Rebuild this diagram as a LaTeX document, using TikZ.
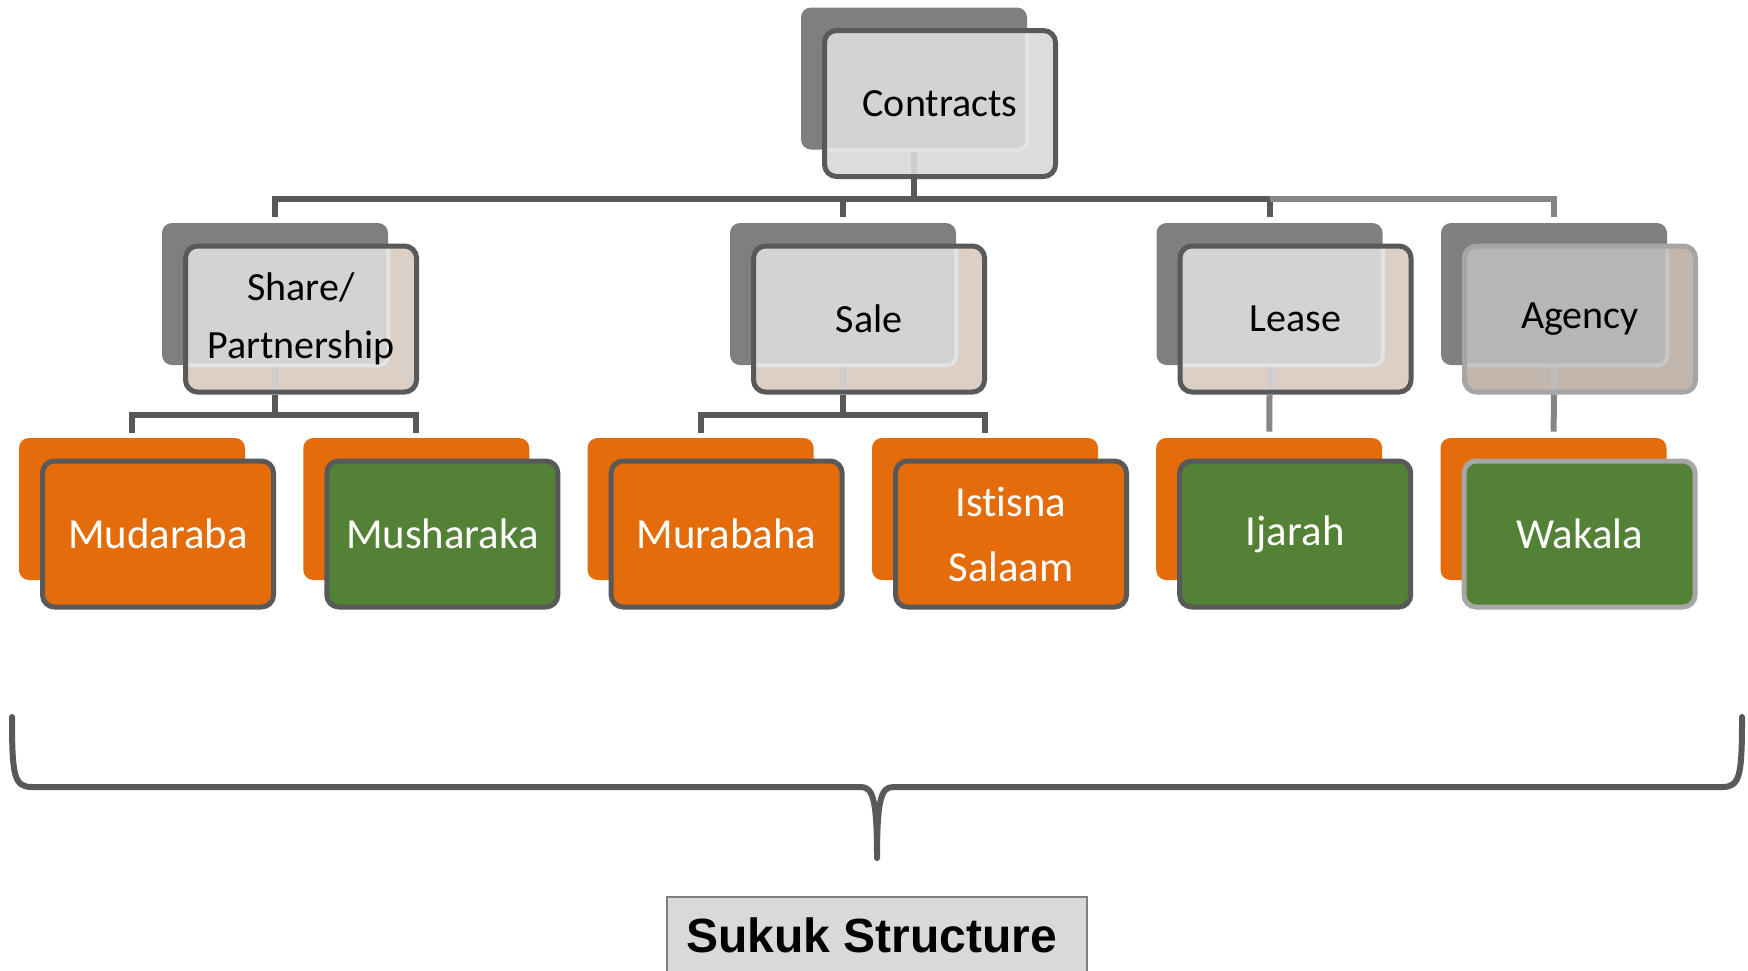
\documentclass[tikz,border=0pt]{standalone}
\usepackage{fontspec}
\setmainfont{Carlito}[Ligatures=NoCommon]
\newfontfamily\sukukfont{Liberation Sans}
\usetikzlibrary{calc}
% dark grey set (Contracts)
\definecolor{bdC}{HTML}{595959}\definecolor{bkC}{HTML}{7F7F7F}\definecolor{tnC}{HTML}{DCDCDC}
\definecolor{ovC}{HTML}{D3D3D3}\definecolor{edC}{HTML}{E3E3E3}\definecolor{thC}{HTML}{CDCDCD}
% level two set
\definecolor{bdG}{HTML}{595959}\definecolor{bkG}{HTML}{7F7F7F}\definecolor{tnG}{HTML}{DCD0C6}
\definecolor{ovG}{HTML}{D3D3D3}\definecolor{edG}{HTML}{E3E3E3}\definecolor{thG}{HTML}{CDCDCD}
% agency set
\definecolor{bdA}{HTML}{A5A5A5}\definecolor{bkA}{HTML}{808080}\definecolor{tnA}{HTML}{C2B5AB}
\definecolor{ovA}{HTML}{B6B6B6}\definecolor{edA}{HTML}{C6C6C6}\definecolor{thA}{HTML}{BEBEBE}
\definecolor{orng}{HTML}{E46C0A}
\definecolor{grn}{HTML}{538135}
\definecolor{darkline}{HTML}{595959}
\definecolor{lightline}{HTML}{868686}
\definecolor{lightborder}{HTML}{A6A6A6}
\definecolor{sukfill}{HTML}{D9D9D9}
\definecolor{sukdraw}{HTML}{7F7F7F}
\newcommand\levtwo{\fontsize{20}{29}\selectfont}
\newcommand\levthree{\fontsize{21.4}{32.5}\selectfont}
\newcommand\grpbox[5]{%
  \node[backbox, fill=bk#5] (#1b) at (#2,#3) {};
  \node[frontbox, draw=bd#5, fill=tn#5, text=black, font=\levtwo,
    path picture={
      \draw[line width=3pt, draw=th#5] (#1b.south) -- ++(0,80);
      \draw[fill=ov#5, draw=ed#5, line width=2pt, rounded corners=5pt]
        (#1b.south west) rectangle (#1b.north east);
    }] (#1) at ($(#1b)+(26,25)$) {#4};
}
\newcommand\leafbox[6]{%
  \node[backbox, fill=orng] (#1b) at (#2,#3) {};
  \node[frontbox, fill=#5, draw=#6, text=white, font=\levthree] (#1) at ($(#1b)+(26,25)$) {#4};
}
\begin{document}
\begin{tikzpicture}[x=0.5pt,y=-0.5pt,
  backbox/.style={rectangle, rounded corners=5pt, minimum width=113pt, minimum height=71pt, inner sep=0pt, draw=none},
  frontbox/.style={rectangle, rounded corners=6pt, minimum width=115.5pt, minimum height=73pt, line width=2.5pt, align=center, inner sep=0pt},
  conn/.style={line width=3pt, draw=darkline},
  connlight/.style={line width=3pt, draw=lightline},
  sukuk/.style={rectangle, fill=sukfill, draw=sukdraw, line width=1pt, minimum width=210pt, minimum height=38pt, inner sep=0pt},
  brace/.style={line width=3pt, draw=darkline, line cap=round, line join=round}]
\useasboundingbox (0,0) rectangle (1748,970);
\coordinate (bar1) at (0,199);
\coordinate (bar2) at (0,415);

% top
\grpbox{c}{914}{78.5}{Contracts}{C}
% level two
\grpbox{s}{275}{294}{Share/\\Partnership}{G}
\grpbox{sa}{843}{294}{Sale}{G}
\grpbox{l}{1269.5}{294}{Lease}{G}
\grpbox{a}{1554}{294}{Agency\vphantom{L}}{A}
% level three
\leafbox{mud}{132}{509}{Mudaraba}{orng}{darkline}
\leafbox{mus}{416.3}{509}{Musharaka}{grn}{darkline}
\leafbox{mur}{700.6}{509}{Murabaha}{orng}{darkline}
\leafbox{ist}{985}{509}{Istisna\\Salaam}{orng}{darkline}
\leafbox{ija}{1269.2}{509}{Ijarah}{grn}{darkline}
\leafbox{wak}{1553.5}{509}{Wakala}{grn}{lightborder}

% connectors, top level
\draw[conn] (cb |- c.south) -- (cb |- bar1);
\draw[conn, shorten <=3pt, shorten >=3pt] (sb.north) |- (lb |- bar1) -- (lb.north);
\draw[conn, shorten >=3pt] (sab |- bar1) -- (sab.north);
\draw[connlight, shorten >=3pt] (lb |- bar1) -| (ab.north);
% connectors, second level
\draw[conn] (sb |- s.south) -- (sb |- bar2);
\draw[conn, shorten <=2.5pt, shorten >=2.5pt] (mudb.north) |- (musb |- bar2) -- (musb.north);
\draw[conn] (sab |- sa.south) -- (sab |- bar2);
\draw[conn, shorten <=2.5pt, shorten >=2.5pt] (murb.north) |- (istb |- bar2) -- (istb.north);
\draw[connlight, shorten >=3pt] (lb |- l.south) -- (ijab.north);
\draw[connlight, shorten >=3pt] (ab |- a.south) -- (wakb.north);

% brace
\draw[brace] (12,717) .. controls (12,776) and (14,787) .. (32,787) -- (861,787)
  .. controls (873,787) and (877,800) .. (877,858)
  .. controls (877,800) and (881,787) .. (893,787) -- (1722,787)
  .. controls (1740,787) and (1742,776) .. (1742,717);

% title box
\node[sukuk, anchor=north, font=\sukukfont\bfseries\fontsize{24}{28}\selectfont] (suk) at (877,896) {Sukuk Structure\hspace*{5pt}};
\end{tikzpicture}
\end{document}
